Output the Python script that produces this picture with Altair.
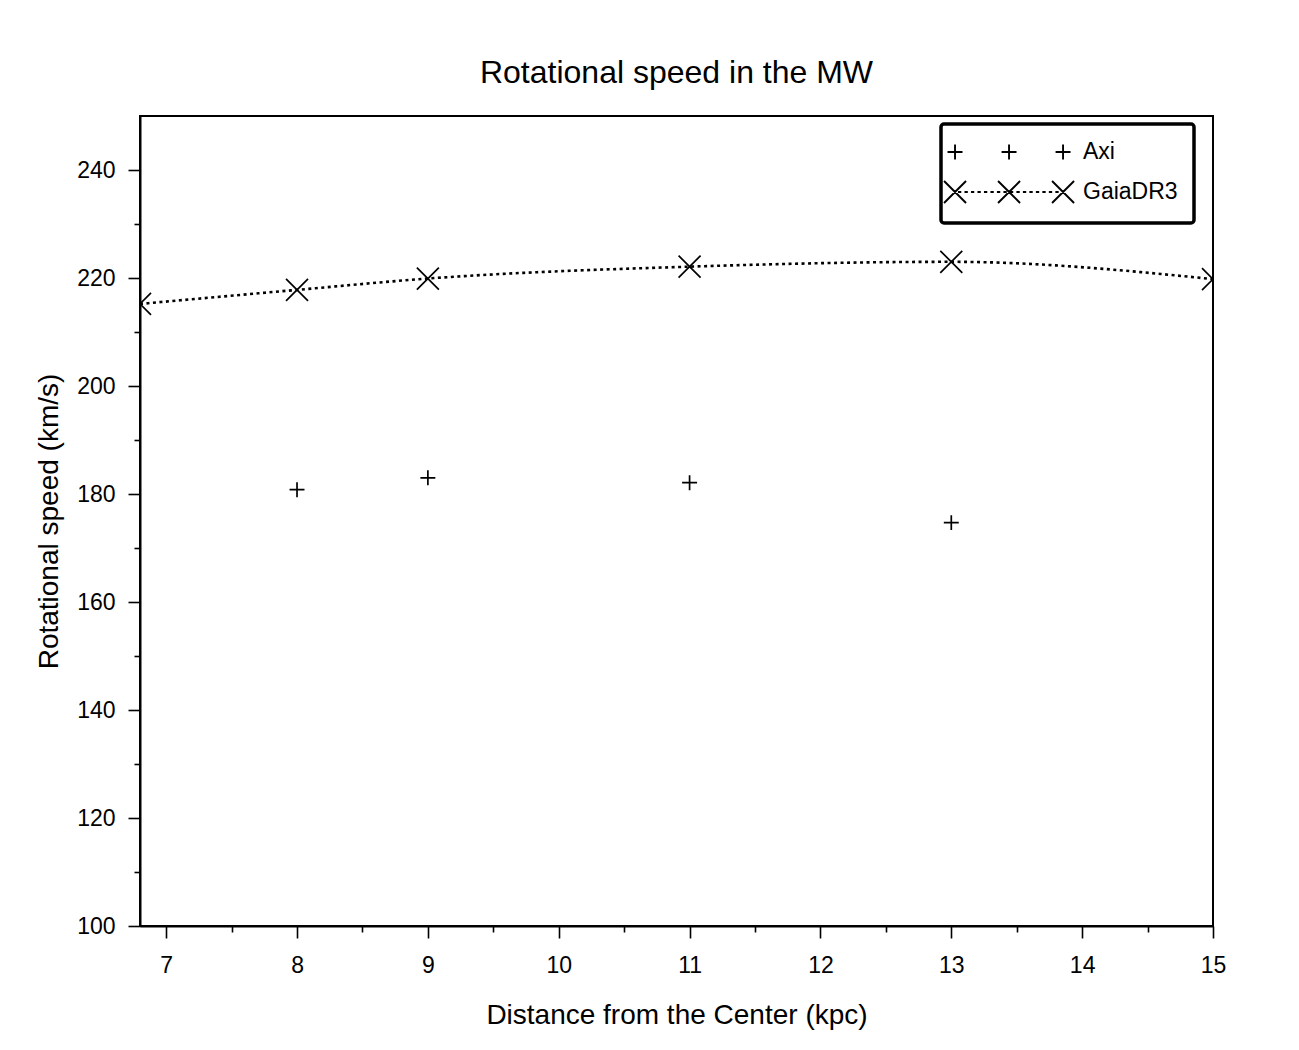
import altair as alt
import pandas as pd

# ---- data ----
gaia_x = [6.8, 8, 9, 11, 13, 15]
gaia_y = [215.2, 217.8, 219.9, 222.1, 223.0, 219.8]
axi_x = [8, 9, 11, 13]
axi_y = [180.8, 183.0, 182.1, 174.7]

series_names = ["Axi", "GaiaDR3"]
x_ticks = [7, 7.5, 8, 8.5, 9, 9.5, 10, 10.5, 11, 11.5, 12, 12.5, 13, 13.5, 14, 14.5, 15]
y_ticks = [100, 110, 120, 130, 140, 150, 160, 170, 180, 190, 200, 210, 220, 230, 240]

axi = pd.DataFrame({"x": axi_x, "y": axi_y, "series": "Axi"})
gaia = pd.DataFrame({"x": gaia_x, "y": gaia_y, "series": "GaiaDR3"})
both = pd.concat([axi, gaia], ignore_index=True)

# ---- marker shapes (unit = half marker size) ----
PLUS = "M-0.68,0H0.68M0,-0.68V0.68"
CROSS = "M-1,-1L1,1M-1,1L1,-1"

# legend symbols: three markers in a row (Origin style)
centers = [-1.27, 3.64, 8.55]
axi_leg = "".join(f"M{c-0.68:.2f},0H{c+0.68:.2f}M{c:.2f},-0.68V0.68" for c in centers)
gaia_leg = "".join(f"M{c-1:.2f},-1L{c+1:.2f},1M{c-1:.2f},1L{c+1:.2f},-1" for c in centers)
gaia_leg += "".join(f"M{-1.0 + 0.59*k:.2f},0h0.3" for k in range(16))

FONT = "Liberation Sans"

xscale = alt.Scale(domain=[6.8, 15], nice=False, zero=False)
yscale = alt.Scale(domain=[100, 250], nice=False, zero=False)

x_axis = alt.Axis(
    values=x_ticks,
    title="Distance from the Center (kpc)",
    labelExpr="datum.value % 1 === 0 ? format(datum.value, 'd') : ''",
    tickSize={"condition": {"test": "datum.value % 1 === 0", "value": 12}, "value": 6},
    labelPadding=16, titlePadding=24, grid=False, labelFlush=False,
)
y_axis = alt.Axis(
    values=y_ticks,
    title="Rotational speed (km/s)",
    labelExpr="datum.value % 20 === 0 ? format(datum.value, 'd') : ''",
    tickSize={"condition": {"test": "datum.value % 20 === 0", "value": 12}, "value": 6},
    labelPadding=13, titlePadding=13, grid=False, labelFlush=False,
)

X = alt.X("x:Q", scale=xscale, axis=x_axis)
Y = alt.Y("y:Q", scale=yscale, axis=y_axis)

line = alt.Chart(gaia).mark_line(
    color="black", strokeWidth=2.6, strokeDash=[3, 3.5], interpolate="monotone", clip=True
).encode(x=X, y=Y)

axi_pts = alt.Chart(axi).mark_point(
    shape=PLUS, filled=False, color="black", strokeWidth=1.7, size=484, opacity=1, clip=True
).encode(x=X, y=Y)

gaia_pts = alt.Chart(gaia).mark_point(
    shape=CROSS, filled=False, color="black", strokeWidth=1.7, size=484, opacity=1, clip=True
).encode(x=X, y=Y)

# invisible layer that only carries the legend
legend_layer = alt.Chart(both).mark_point(
    filled=False, color="black", strokeWidth=1.7, size=484, opacity=0, clip=True
).encode(
    x=X, y=Y,
    shape=alt.Shape(
        "series:N",
        scale=alt.Scale(domain=series_names, range=[axi_leg, gaia_leg]),
        legend=alt.Legend(
            title=None,
            orient="none",
            legendX=801,
            legendY=8,
            symbolSize=484,
            symbolStrokeWidth=1.9,
            symbolStrokeColor="black",
            symbolOpacity=1,
            labelOffset=102,
            rowPadding=13,
        ),
    ),
)

chart = (
    alt.layer(line, axi_pts, gaia_pts, legend_layer)
    .properties(
        width=1073,
        height=810,
        title=alt.TitleParams(
            "Rotational speed in the MW", fontSize=32, fontWeight="normal",
            font=FONT, offset=26, anchor="middle", color="black",
        ),
        autosize=alt.AutoSizeParams(type="none"),
        padding={"left": 132, "top": 108, "right": 60, "bottom": 120},
    )
    .configure(font=FONT)
    .configure_view(stroke="black", strokeWidth=2)
    .configure_axis(
        domainColor="black", domainWidth=2, tickColor="black", tickWidth=1.6,
        labelFontSize=23, labelColor="black", labelFont=FONT,
        titleFontSize=28, titleFontWeight="normal", titleColor="black", titleFont=FONT,
    )
    .configure_legend(
        strokeColor="black", strokeWidth=3.5, cornerRadius=3, padding=16,
        labelFontSize=23, labelColor="black", labelFont=FONT, labelLimit=300,
    )
)

chart.save("out.html", embed_options={"renderer": "svg", "actions": False})
